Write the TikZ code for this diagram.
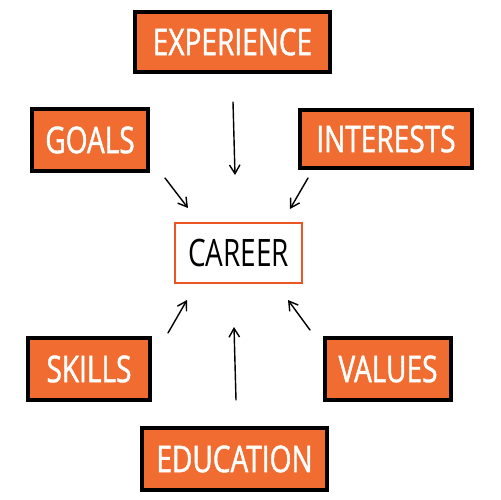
\documentclass[tikz,border=0pt]{standalone}
\usepackage{fontspec}
\setmainfont{Open Sans}[FakeStretch=0.74]
\newfontfamily\tagfont{Open Sans}[FakeStretch=0.76,FakeBold=1.2]
\usetikzlibrary{arrows.meta}
\definecolor{boxorange}{RGB}{240,108,48}
\definecolor{careerred}{RGB}{236,84,34}
\tikzset{
  tag/.style={draw=black, line width=1.9pt, fill=boxorange, text=white,
    font=\tagfont\fontsize{21}{23}\selectfont, inner sep=0pt},
  hub/.style={draw=careerred, line width=1.2pt, fill=white, text=black,
    font=\fontsize{21.5}{23}\selectfont, inner sep=0pt},
  pointer/.style={line width=0.8pt, -{Straight Barb[length=5pt,width=6pt]}, line cap=round}
}
\begin{document}
\begin{tikzpicture}[x=0.02cm,y=-0.02cm]
\useasboundingbox (0,0) rectangle (500,500);
\node[tag, minimum width=3.9cm, minimum height=1.2cm] (exp) at (232.5,42) {EXPERIENCE};
\node[tag, minimum width=2.32cm, minimum height=1.24cm] (goals) at (90,140) {GOALS};
\node[tag, minimum width=3.44cm, minimum height=1.16cm] (int) at (386,139) {INTERESTS};
\node[hub, minimum width=2.54cm, minimum height=1.2cm] (car) at (238.5,253) {CAREER};
\node[tag, minimum width=2.44cm, minimum height=1.24cm] (skills) at (89,369) {SKILLS};
\node[tag, minimum width=2.52cm, minimum height=1.24cm] (values) at (388,369) {VALUES};
\node[tag, minimum width=3.7cm, minimum height=1.24cm] (edu) at (234.5,459) {EDUCATION};
\coordinate (a1) at (233,102); \coordinate (b1) at (235,175);
\coordinate (a2) at (165,178); \coordinate (b2) at (188,208);
\coordinate (a3) at (308,178); \coordinate (b3) at (290,209);
\coordinate (a4) at (168,333); \coordinate (b4) at (187,300);
\coordinate (a5) at (236,400); \coordinate (b5) at (234,327);
\coordinate (a6) at (310,330); \coordinate (b6) at (288,300);
\draw[pointer] (a1) -- (b1);
\draw[pointer] (a2) -- (b2);
\draw[pointer] (a3) -- (b3);
\draw[pointer] (a4) -- (b4);
\draw[pointer] (a5) -- (b5);
\draw[pointer] (a6) -- (b6);
\end{tikzpicture}
\end{document}
